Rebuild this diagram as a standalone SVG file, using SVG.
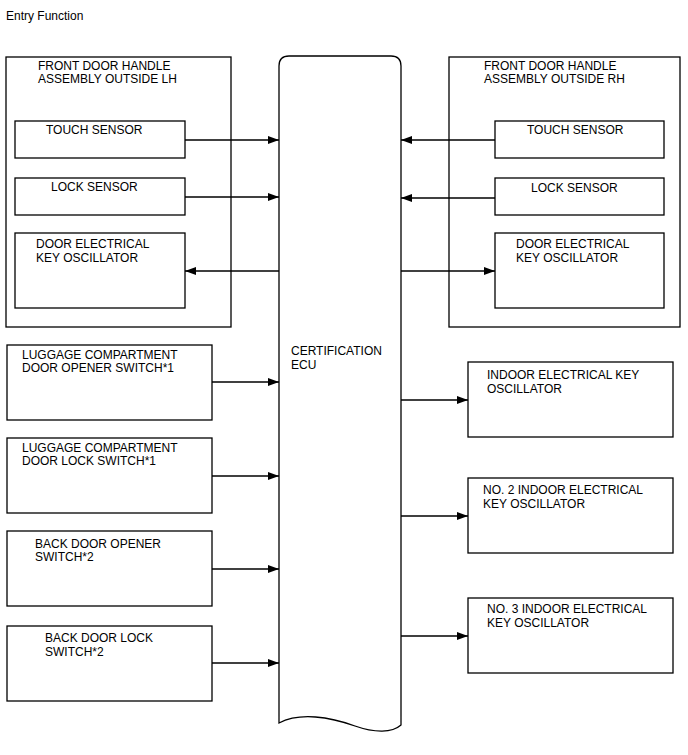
<svg xmlns="http://www.w3.org/2000/svg" width="688" height="755" viewBox="0 0 688 755">
<defs>
<style>
text{font-family:"Liberation Sans",Arial,sans-serif;font-size:12px;fill:#000}
.b{fill:#fff;stroke:#000;stroke-width:1.3}
.c{fill:none;stroke:#000;stroke-width:1.3}
</style>
<marker id="ah" markerUnits="userSpaceOnUse" markerWidth="12" markerHeight="10" refX="11" refY="5" orient="auto-start-reverse"><path d="M0,1 L11,5 L0,9 Z" fill="#000"/></marker>
</defs>
<rect width="688" height="755" fill="#fff"/>
<text x="6" y="20">Entry Function</text>
<g id="ecu"><path class="b" d="M279,723 L279,66 Q279,56 289,56 L391,56 Q401,56 401,66 L401,725 C392,733 375,733 355,726 C330,717 300,712 279,723 Z"/><text x="291" y="355">CERTIFICATION</text><text x="291" y="369">ECU</text></g>
<g id="lh"><rect class="b" x="6" y="57" width="225" height="270"/><text x="38" y="70">FRONT DOOR HANDLE</text><text x="38" y="83">ASSEMBLY OUTSIDE LH</text></g>
<g id="lh-touch"><rect class="b" x="15" y="121" width="170" height="37"/><text x="46" y="134">TOUCH SENSOR</text></g>
<g id="lh-lock"><rect class="b" x="15" y="178" width="170" height="37"/><text x="51" y="191">LOCK SENSOR</text></g>
<g id="lh-osc"><rect class="b" x="15" y="233" width="170" height="75"/><text x="36" y="248">DOOR ELECTRICAL</text><text x="36" y="262">KEY OSCILLATOR</text></g>
<g id="rh"><rect class="b" x="449" y="57" width="231" height="270"/><text x="484" y="70">FRONT DOOR HANDLE</text><text x="484" y="83">ASSEMBLY OUTSIDE RH</text></g>
<g id="rh-touch"><rect class="b" x="495" y="121" width="169" height="37"/><text x="527" y="134">TOUCH SENSOR</text></g>
<g id="rh-lock"><rect class="b" x="495" y="178" width="169" height="37"/><text x="531" y="192">LOCK SENSOR</text></g>
<g id="rh-osc"><rect class="b" x="495" y="233" width="169" height="75"/><text x="516" y="248">DOOR ELECTRICAL</text><text x="516" y="262">KEY OSCILLATOR</text></g>
<g id="lug-open"><rect class="b" x="7" y="345" width="205" height="75"/><text x="22" y="359">LUGGAGE COMPARTMENT</text><text x="22" y="372">DOOR OPENER SWITCH*1</text></g>
<g id="lug-lock"><rect class="b" x="7" y="438" width="205" height="75"/><text x="22" y="452">LUGGAGE COMPARTMENT</text><text x="22" y="465">DOOR LOCK SWITCH*1</text></g>
<g id="back-open"><rect class="b" x="7" y="531" width="205" height="75"/><text x="35" y="548">BACK DOOR OPENER</text><text x="35" y="561">SWITCH*2</text></g>
<g id="back-lock"><rect class="b" x="7" y="626" width="205" height="75"/><text x="45" y="642">BACK DOOR LOCK</text><text x="45" y="656">SWITCH*2</text></g>
<g id="indoor1"><rect class="b" x="468" y="362" width="205" height="75"/><text x="487" y="379">INDOOR ELECTRICAL KEY</text><text x="487" y="393">OSCILLATOR</text></g>
<g id="indoor2"><rect class="b" x="468" y="478" width="205" height="75"/><text x="483" y="494">NO. 2 INDOOR ELECTRICAL</text><text x="483" y="508">KEY OSCILLATOR</text></g>
<g id="indoor3"><rect class="b" x="468" y="598" width="205" height="75"/><text x="487" y="613">NO. 3 INDOOR ELECTRICAL</text><text x="487" y="627">KEY OSCILLATOR</text></g>
<g id="connectors">
<path class="c" d="M185,140 H279" marker-end="url(#ah)"/>
<path class="c" d="M185,197 H279" marker-end="url(#ah)"/>
<path class="c" d="M185,271 H279" marker-start="url(#ah)"/>
<path class="c" d="M495,140 H401" marker-end="url(#ah)"/>
<path class="c" d="M495,198 H401" marker-end="url(#ah)"/>
<path class="c" d="M401,271 H495" marker-end="url(#ah)"/>
<path class="c" d="M212,382 H279" marker-end="url(#ah)"/>
<path class="c" d="M212,476 H279" marker-end="url(#ah)"/>
<path class="c" d="M212,569 H279" marker-end="url(#ah)"/>
<path class="c" d="M212,663 H279" marker-end="url(#ah)"/>
<path class="c" d="M401,400 H468" marker-end="url(#ah)"/>
<path class="c" d="M401,516 H468" marker-end="url(#ah)"/>
<path class="c" d="M401,636 H468" marker-end="url(#ah)"/>
</g>
</svg>
